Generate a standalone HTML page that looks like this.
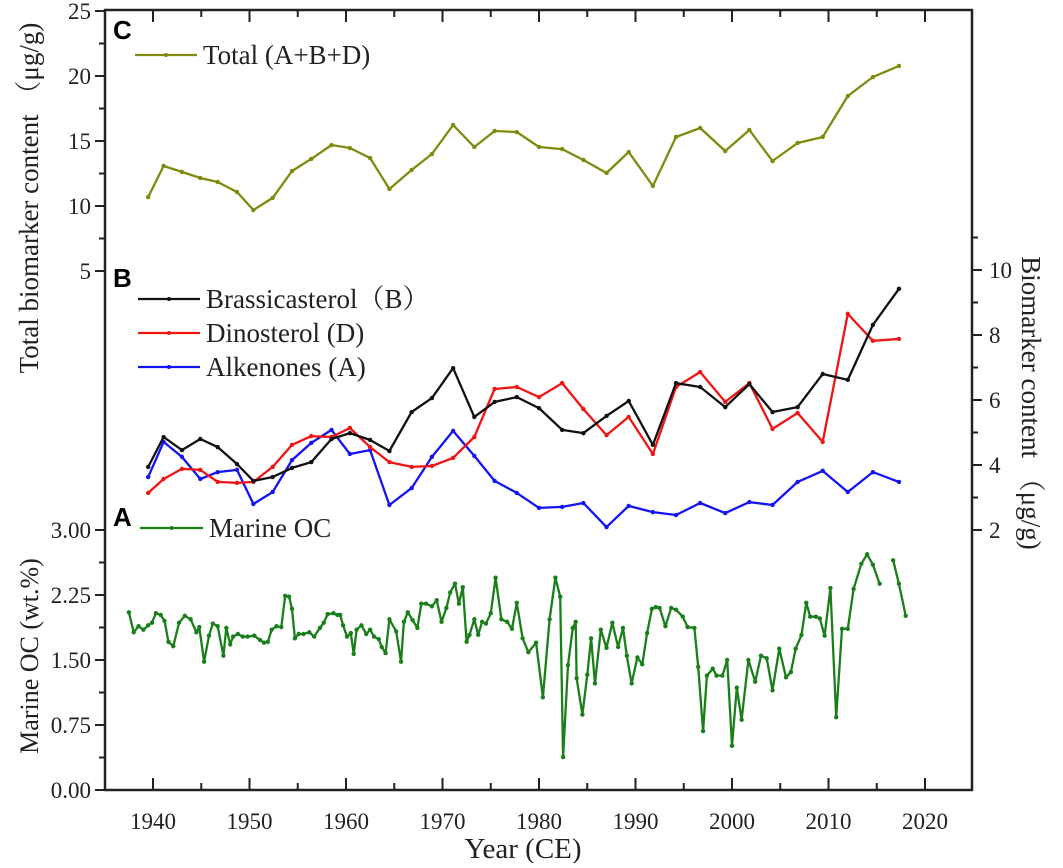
<!DOCTYPE html>
<html><head><meta charset="utf-8">
<style>
html,body{margin:0;padding:0;background:#fff;}
svg text{font-family:"Liberation Serif","Noto Serif CJK SC",serif;fill:#222;}
</style></head>
<body>
<svg id="chart" width="1063" height="863" viewBox="0 0 1063 863" xmlns="http://www.w3.org/2000/svg"></svg>
<script>
// ---- data ----
const bioYears = [1939.5,1941.1,1943.0,1944.9,1946.7,1948.7,1950.4,1952.4,1954.4,1956.4,1958.5,1960.4,1962.5,1964.5,1966.8,1968.9,1971.1,1973.3,1975.4,1977.7,1980.0,1982.4,1984.6,1987.0,1989.3,1991.8,1994.2,1996.7,1999.3,2001.8,2004.2,2006.8,2009.4,2012.0,2014.6,2017.3];
const totalValues = [10.69,13.08,12.62,12.15,11.85,11.08,9.69,10.62,12.69,13.62,14.69,14.46,13.69,11.31,12.77,14.0,16.23,14.54,15.77,15.69,14.54,14.38,13.54,12.54,14.15,11.54,15.31,16.0,14.23,15.85,13.46,14.85,15.31,18.46,19.92,20.77];
const brassicasterol = [3.94,4.86,4.46,4.8,4.55,4.03,3.51,3.63,3.91,4.09,4.8,4.98,4.77,4.43,5.63,6.06,6.98,5.48,5.94,6.09,5.75,5.08,4.98,5.51,5.97,4.62,6.52,6.4,5.78,6.49,5.63,5.78,6.8,6.62,8.31,9.42];
const dinosterol = [3.14,3.57,3.88,3.85,3.48,3.45,3.48,3.94,4.62,4.89,4.86,5.14,4.55,4.09,3.94,3.97,4.22,4.86,6.34,6.4,6.09,6.52,5.72,4.92,5.48,4.34,6.4,6.86,5.94,6.52,5.11,5.6,4.71,8.65,7.82,7.88];
const alkenones = [3.63,4.71,4.25,3.57,3.78,3.85,2.8,3.17,4.15,4.68,5.08,4.34,4.46,2.77,3.29,4.25,5.05,4.28,3.51,3.14,2.68,2.71,2.83,2.09,2.74,2.55,2.46,2.83,2.52,2.86,2.77,3.48,3.82,3.17,3.78,3.48];
const ocYears = [1937.5,1938.0,1938.5,1939.0,1939.5,1939.9,1940.3,1940.8,1941.2,1941.6,
1942.1,1942.7,1943.3,1943.9,1944.5,1944.8,1945.3,1945.8,1946.2,1946.7,
1947.3,1947.6,1948.0,1948.3,1948.8,1949.3,1949.8,1950.5,1951.1,1951.5,
1951.9,1952.3,1952.8,1953.3,1953.7,1954.1,1954.4,1954.7,1955.1,1955.6,
1956.2,1956.7,1957.3,1957.7,1958.1,1958.7,1959.1,1959.4,1959.7,1960.1,
1960.5,1960.8,1961.1,1961.6,1962.1,1962.5,1962.9,1963.4,1963.7,1964.1,
1964.5,1965.2,1965.7,1966.0,1966.4,1966.9,1967.4,1967.8,1968.3,1968.9,
1969.4,1969.9,1970.4,1970.8,1971.3,1971.7,1972.1,1972.5,1972.8,1973.3,
1973.7,1974.1,1974.5,1975.0,1975.5,1976.1,1976.7,1977.2,1977.7,1978.3,
1978.9,1979.7,1980.4,
1981.1,1981.7,1982.2,1982.5,1983.0,1983.5,1983.8,1983.9,1984.5,1985.0,
1985.4,1985.8,1986.4,1987.0,1987.6,1988.2,1988.7,1989.1,1989.6,1990.2,
1990.7,1991.2,1991.7,1992.1,1992.5,1993.1,1993.7,1994.2,1994.9,1995.4,
1996.1,1996.5,1997.0,1997.4,1998.0,1998.4,1999.0,1999.5,2000.0,2000.5,
2001.0,2001.7,2002.4,2003.0,2003.6,2004.2,2004.9,2005.6,2006.1,2006.6,
2007.2,2007.7,2008.1,2008.7,2009.1,2009.6,2010.2,2010.8,2011.4,2012.0,
2012.6,2013.4,2014.0,2014.6,2015.3,2016.7,2017.3,2018.0];
const ocValues = [2.05,1.82,1.89,1.85,1.90,1.93,2.04,2.02,1.95,1.71,
1.66,1.93,2.01,1.97,1.82,1.88,1.48,1.78,1.92,1.89,
1.55,1.87,1.68,1.77,1.80,1.77,1.77,1.78,1.73,1.70,
1.71,1.85,1.89,1.88,2.24,2.23,2.09,1.75,1.80,1.80,
1.82,1.77,1.87,1.93,2.03,2.04,2.02,2.02,1.90,1.77,
1.81,1.57,1.85,1.90,1.80,1.85,1.77,1.74,1.65,1.58,
1.97,1.83,1.48,1.94,2.05,1.96,1.87,2.15,2.15,2.12,
2.19,1.94,2.10,2.28,2.38,2.15,2.34,1.71,1.79,1.97,
1.79,1.94,1.92,2.04,2.45,1.97,1.94,1.86,2.16,1.75,
1.59,1.70,1.07,
1.97,2.45,2.23,0.38,1.44,1.87,1.94,1.29,0.87,1.33,
1.75,1.23,1.85,1.64,1.93,1.65,1.87,1.55,1.23,1.53,
1.45,1.81,2.09,2.11,2.10,1.89,2.10,2.08,2.00,1.88,
1.87,1.42,0.68,1.32,1.40,1.32,1.32,1.50,0.51,1.18,
0.81,1.50,1.25,1.55,1.52,1.15,1.63,1.30,1.36,1.63,
1.79,2.16,2.00,2.00,1.98,1.78,2.33,0.84,1.86,1.86,
2.32,2.61,2.72,2.60,2.38,2.65,2.38,2.01];
const xTicks = [1940,1950,1960,1970,1980,1990,2000,2010,2020];
const leftTotalTicks = [5,10,15,20,25];
const ocTicks = ["0.00","0.75","1.50","2.25","3.00"];
const rightTicks = [2,4,6,8,10];

// ---- axes ----
const L=105,R=972,T=10,B=790;
const xS = y => 153 + (y-1940)*9.65;
const yTot = v => 336 - v*13;
const yBio = v => 595 - v*32.5;
const yOC = v => 790 - v*86.67;
const svg = document.getElementById('chart');
const NS='http://www.w3.org/2000/svg';
function mk(tag, attrs, parent){const e=document.createElementNS(NS,tag);for(const k in attrs)e.setAttribute(k,attrs[k]);(parent||svg).appendChild(e);return e;}
function txt(s,attrs,parent){const e=mk('text',attrs,parent);e.textContent=s;return e;}

const frame = mk('rect',{x:L,y:T,width:R-L,height:B-T,fill:'none',stroke:'#222','stroke-width':2.5});



const xg = mk('g',{});


xTicks.forEach((t,i)=>{
  const x=xS(t);
  mk('line',{x1:x,x2:x,y1:B,y2:B-12,stroke:'#222','stroke-width':2},xg);
  mk('line',{x1:x,x2:x,y1:T,y2:T+12,stroke:'#222','stroke-width':2},xg);
  const xm=xS(t+5);
  if(xm<R){mk('line',{x1:xm,x2:xm,y1:B,y2:B-7,stroke:'#222','stroke-width':2},xg);
  mk('line',{x1:xm,x2:xm,y1:T,y2:T+7,stroke:'#222','stroke-width':2},xg);}
  const lb=txt(String(t),{x:x,y:829,'text-anchor':'middle','font-size':23},xg);
  
  
});
const xt=txt('Year (CE)',{x:523,y:858,'text-anchor':'middle','font-size':29});



const lg=mk('g',{});


leftTotalTicks.forEach(t=>{
  const y=yTot(t);
  mk('line',{x1:L,x2:L-10,y1:y,y2:y,stroke:'#222','stroke-width':2},lg);
  if(t<25){const ym=yTot(t+2.5);mk('line',{x1:L,x2:L-6,y1:ym,y2:ym,stroke:'#222','stroke-width':2},lg);}
  txt(String(t),{x:L-14,y:y+8,'text-anchor':'end','font-size':23},lg);
});
const og=mk('g',{});


ocTicks.forEach((t,i)=>{
  const v=parseFloat(t);const y=yOC(v);
  mk('line',{x1:L,x2:L-10,y1:y,y2:y,stroke:'#222','stroke-width':2},og);
  if(i<ocTicks.length-1){const ym=yOC(v+0.375);mk('line',{x1:L,x2:L-6,y1:ym,y2:ym,stroke:'#222','stroke-width':2},og);}
  txt(t,{x:L-14,y:y+8,'text-anchor':'end','font-size':23},og);
});
const rg=mk('g',{});


rightTicks.forEach(t=>{
  const y=yBio(t);
  mk('line',{x1:R,x2:R+10,y1:y,y2:y,stroke:'#222','stroke-width':2},rg);
  const ym=yBio(t+1);mk('line',{x1:R,x2:R+6,y1:ym,y2:ym,stroke:'#222','stroke-width':2},rg);
  txt(String(t),{x:R+17,y:y+8,'text-anchor':'start','font-size':23},rg);
});

const lt=txt('Total biomarker content （μg/g)',{x:0,y:0,'text-anchor':'middle','font-size':27,transform:'translate(38,198) rotate(-90)'});


const ot=txt('Marine OC (wt.%)',{x:0,y:0,'text-anchor':'middle','font-size':26,transform:'translate(38,656) rotate(-90)'});


const rt=txt('Biomarker content （μg/g)',{x:0,y:0,'text-anchor':'middle','font-size':27,transform:'translate(1022,403) rotate(90)'});



[['C',30],['B',278],['A',517]].forEach(([s,y])=>{
  const e=txt(s,{x:113,y:y+9,'font-size':26,'font-weight':'bold',style:'font-family:"Liberation Sans",sans-serif;fill:#000'});
  
  
});

function series(xs,ys,xf,yf,color,name,breakGap){
  const g=mk('g',{});
  
  
  let d='';
  for(let i=0;i<xs.length;i++){
    const cmd=(i===0||(breakGap&&xs[i]-xs[i-1]>breakGap))?'M':'L';
    d+=cmd+xf(xs[i]).toFixed(1)+','+yf(ys[i]).toFixed(1)+' ';
  }
  mk('path',{d:d,fill:'none',stroke:color,'stroke-width':2.3,'stroke-linejoin':'round'},g);
  for(let i=0;i<xs.length;i++){
    const c=mk('circle',{cx:xf(xs[i]),cy:yf(ys[i]),r:2.2,fill:color},g);
    
    
  }
}
series(bioYears,totalValues,xS,yTot,'#7f8a0e','total-series');
series(bioYears,alkenones,xS,yBio,'#1414f0','alkenones-series');
series(bioYears,dinosterol,xS,yBio,'#f01414','dinosterol-series');
series(bioYears,brassicasterol,xS,yBio,'#111','brassicasterol-series');
series(ocYears,ocValues,xS,yOC,'#1a7f1a','marine-oc-series',1.1);

function legend(x1,x2,y,color,label,name){
  const g=mk('g',{});
  
  
  mk('line',{x1:x1,x2:x2,y1:y,y2:y,stroke:color,'stroke-width':2.3},g);
  mk('circle',{cx:(x1+x2)/2,cy:y,r:2,fill:color},g);
  txt(label,{x:x2+6,y:y+9,'font-size':27},g);
}
legend(135,197,55,'#7f8a0e','Total (A+B+D)','legend-total');
legend(138,200,299,'#111','Brassicasterol（B）','legend-brassicasterol');
legend(138,200,333,'#f01414','Dinosterol (D)','legend-dinosterol');
legend(138,200,367,'#1414f0','Alkenones (A)','legend-alkenones');
legend(140,203,528,'#1a7f1a','Marine OC','legend-marine-oc');
</script>
</body></html>
